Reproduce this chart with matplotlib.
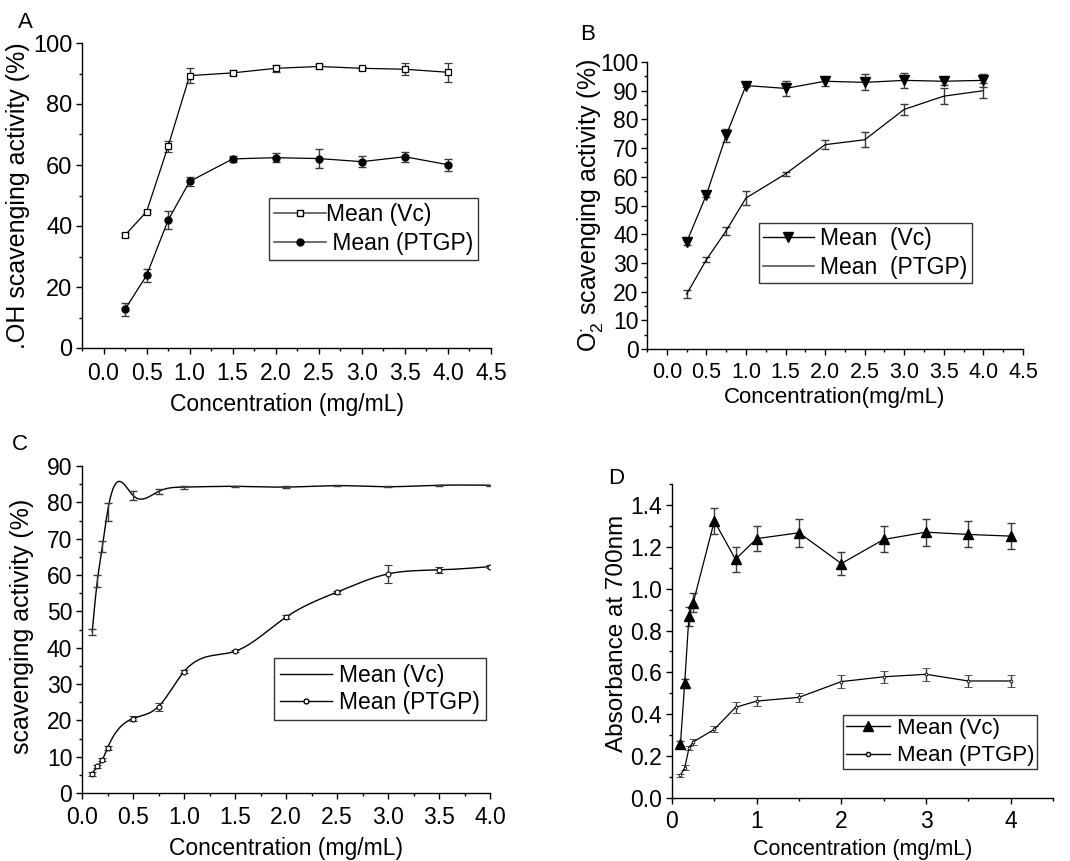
import numpy as np
import matplotlib
matplotlib.use("Agg")
import matplotlib.pyplot as plt
from matplotlib.ticker import MultipleLocator
from matplotlib.lines import Line2D

plt.rcParams['font.family'] = ['Liberation Sans', 'DejaVu Sans']
plt.rcParams['mathtext.fontset'] = 'custom'
plt.rcParams['mathtext.rm'] = 'Liberation Sans'
plt.rcParams['mathtext.it'] = 'Liberation Sans:italic'
plt.rcParams['axes.linewidth'] = 1.0

# ---------------- Data ----------------
# Panel A: .OH scavenging
a_x = [0.25, 0.5, 0.75, 1.0, 1.5, 2.0, 2.5, 3.0, 3.5, 4.0]
a_vc = [37.0, 44.7, 66.1, 89.3, 90.2, 91.7, 92.3, 91.7, 91.4, 90.4]
a_vc_err = [0.7, 0.5, 1.9, 2.5, 0.8, 1.2, 0.9, 0.4, 1.9, 3.1]
a_ptgp = [12.7, 23.8, 41.9, 54.6, 62.0, 62.4, 62.1, 61.1, 62.7, 60.1]
a_ptgp_err = [2.2, 2.1, 3.0, 1.6, 0.9, 1.5, 3.0, 1.8, 1.7, 2.0]

# Panel B: O2 scavenging
b_x = [0.25, 0.5, 0.75, 1.0, 1.5, 2.0, 2.5, 3.0, 3.5, 4.0]
b_vc = [37.2, 53.7, 74.4, 91.8, 90.8, 93.3, 92.9, 93.6, 93.3, 93.6]
b_vc_err = [0.8, 0.8, 2.3, 0.5, 2.7, 1.5, 2.8, 2.5, 1.3, 2.2]
b_ptgp = [19.1, 31.1, 41.2, 52.6, 61.0, 71.2, 72.9, 83.5, 88.1, 90.0]
b_ptgp_err = [1.5, 0.8, 1.4, 2.3, 0.8, 1.5, 2.6, 2.0, 2.9, 2.6]

# Panel C: scavenging activity
c_x = [0.1, 0.15, 0.2, 0.25, 0.5, 0.75, 1.0, 1.5, 2.0, 2.5, 3.0, 3.5, 4.0]
c_vc = [44.4, 58.3, 67.9, 77.4, 81.9, 83.0, 84.2, 84.4, 84.2, 84.6, 84.3, 84.7, 84.7]
c_vc_err = [0.8, 1.6, 1.5, 2.4, 1.3, 0.6, 0.4, 0.2, 0.2, 0.2, 0.2, 0.2, 0.2]
c_ptgp = [5.3, 7.3, 9.2, 12.4, 20.5, 23.8, 33.4, 39.0, 48.4, 55.3, 60.3, 61.4, 62.3]
c_ptgp_err = [0.5, 0.4, 0.4, 0.5, 0.7, 1.1, 0.4, 0.3, 0.6, 0.4, 2.5, 0.8, 0.4]

# Panel D: reducing power
d_x = [0.1, 0.15, 0.2, 0.25, 0.5, 0.75, 1.0, 1.5, 2.0, 2.5, 3.0, 3.5, 4.0]
d_vc = [0.26, 0.548, 0.868, 0.932, 1.323, 1.14, 1.239, 1.267, 1.12, 1.235, 1.27, 1.259, 1.251]
d_vc_err = [0.012, 0.022, 0.044, 0.045, 0.064, 0.058, 0.06, 0.066, 0.056, 0.062, 0.064, 0.062, 0.062]
d_ptgp = [0.109, 0.144, 0.237, 0.268, 0.328, 0.433, 0.463, 0.481, 0.556, 0.579, 0.591, 0.559, 0.559]
d_ptgp_err = [0.008, 0.012, 0.01, 0.015, 0.015, 0.025, 0.025, 0.022, 0.03, 0.03, 0.03, 0.03, 0.03]

W, H = 1070, 861
fig = plt.figure(figsize=(W / 100, H / 100), dpi=100)


def px_axes(l, t, r, b):
    return fig.add_axes([l / W, 1 - b / H, (r - l) / W, (b - t) / H])


def style(ax, tick_fs):
    for s in ['top', 'right']:
        ax.spines[s].set_visible(False)
    ax.tick_params(which='major', direction='out', length=4, width=1.0, labelsize=tick_fs, pad=3)
    ax.tick_params(which='minor', direction='out', length=2.5, width=1.0)


def spline(x, y, n=500):
    x = np.asarray(x, float)
    y = np.asarray(y, float)
    m = len(x)
    h = np.diff(x)
    A = np.zeros((m, m))
    bb = np.zeros(m)
    A[0, 0] = 1
    A[-1, -1] = 1
    for i in range(1, m - 1):
        A[i, i - 1] = h[i - 1]
        A[i, i] = 2 * (h[i - 1] + h[i])
        A[i, i + 1] = h[i]
        bb[i] = 3 * ((y[i + 1] - y[i]) / h[i] - (y[i] - y[i - 1]) / h[i - 1])
    c = np.linalg.solve(A, bb)
    xs = np.linspace(x[0], x[-1], n)
    idx = np.clip(np.searchsorted(x, xs) - 1, 0, m - 2)
    dx = xs - x[idx]
    bcoef = (y[1:] - y[:-1]) / h - h * (2 * c[:-1] + c[1:]) / 3
    d = (c[1:] - c[:-1]) / (3 * h)
    ys = y[idx] + bcoef[idx] * dx + c[idx] * dx ** 2 + d[idx] * dx ** 3
    return xs, ys


EB = dict(ecolor='#3a3a3a', elinewidth=1.0, capsize=3, capthick=1.0)

# ---------------- Panel A ----------------
axA = px_axes(82, 43, 491, 348)
style(axA, 15)
axA.errorbar(a_x, a_vc, yerr=a_vc_err, color='black', lw=0.9, marker='s', ms=4.5,
             mfc='white', mec='black', mew=0.9, **EB)
axA.errorbar(a_x, a_ptgp, yerr=a_ptgp_err, color='black', lw=0.9, marker='o', ms=5,
             mfc='black', mec='black', **EB)
axA.set_xlim(-0.25, 4.5)
axA.set_ylim(0, 100)
axA.xaxis.set_major_locator(MultipleLocator(0.5))
axA.xaxis.set_minor_locator(MultipleLocator(0.25))
axA.yaxis.set_major_locator(MultipleLocator(20))
axA.yaxis.set_minor_locator(MultipleLocator(10))
axA.xaxis.set_major_formatter(matplotlib.ticker.FormatStrFormatter('%.1f'))
axA.tick_params(axis='y', labelsize=17)
axA.tick_params(axis='x', labelsize=16.5, pad=6)
axA.set_ylabel('.OH scavenging activity (%)', fontsize=18, va='center')
axA.yaxis.set_label_coords(-64 / 409, 0.5)
axA.set_xlabel('Concentration (mg/mL)', fontsize=16.5, va='center')
axA.xaxis.set_label_coords(0.5, -57 / 305)
hA = [Line2D([], [], color='#555555', lw=1.2, marker='s', ms=4.5, mfc='white', mec='black'),
      Line2D([], [], color='#555555', lw=1.2, marker='o', ms=5, mfc='black', mec='black')]
legA = fig.legend(hA, ['Mean (Vc)', ' Mean (PTGP)'], loc='upper left',
                  bbox_to_anchor=(269 / W, 1 - 198 / H), bbox_transform=fig.transFigure,
                  fontsize=16.5, frameon=True, fancybox=False, edgecolor='black',
                  handlelength=2.3, handletextpad=0.0, labelspacing=0.3, borderpad=0.2,
                  borderaxespad=0)
legA.get_frame().set_linewidth(1.0)
fig.text(25 / W, 1 - 23 / H, 'A', fontsize=16, ha='center', va='center')

# ---------------- Panel B ----------------
axB = px_axes(647, 62, 1023, 349)
style(axB, 15)
axB.errorbar(b_x, b_vc, yerr=b_vc_err, color='black', lw=0.9, marker='v', ms=6.5,
             mfc='black', mec='black', **EB)
axB.errorbar(b_x, b_ptgp, yerr=b_ptgp_err, color='black', lw=0.9, **EB)
axB.set_xlim(-0.25, 4.5)
axB.set_ylim(0, 100)
axB.xaxis.set_major_locator(MultipleLocator(0.5))
axB.xaxis.set_minor_locator(MultipleLocator(0.25))
axB.yaxis.set_major_locator(MultipleLocator(10))
axB.yaxis.set_minor_locator(MultipleLocator(5))
axB.xaxis.set_major_formatter(matplotlib.ticker.FormatStrFormatter('%.1f'))
axB.tick_params(axis='y', labelsize=16.5, pad=2)
axB.tick_params(axis='x', labelsize=15.5, pad=5)
axB.set_ylabel(r'O$_{2}^{\cdot}$ scavenging activity (%)', fontsize=18, va='center')
axB.yaxis.set_label_coords(-57 / 376, 0.5)
axB.set_xlabel('Concentration(mg/mL)', fontsize=16, va='center')
axB.xaxis.set_label_coords(0.5, -48 / 287)
hB = [Line2D([], [], color='black', lw=1.0, marker='v', ms=6.5, mfc='black', mec='black'),
      Line2D([], [], color='#555555', lw=1.2)]
legB = fig.legend(hB, ['Mean  (Vc)', 'Mean  (PTGP)'], loc='upper left',
                  bbox_to_anchor=(759 / W, 1 - 223 / H), bbox_transform=fig.transFigure,
                  fontsize=16.5, frameon=True, fancybox=False, edgecolor='black',
                  handlelength=2.2, handletextpad=0.3, labelspacing=0.25, borderpad=0.18,
                  borderaxespad=0)
legB.get_frame().set_linewidth(1.0)
fig.text(588 / W, 1 - 35 / H, 'B', fontsize=16, ha='center', va='center')

# ---------------- Panel C ----------------
axC = px_axes(82, 466, 490, 793)
style(axC, 16.5)
xs, ys = spline(c_x, c_vc)
axC.plot(xs, ys, color='black', lw=1.0)
axC.errorbar(c_x, c_vc, yerr=c_vc_err, fmt='none', **EB)
xs, ys = spline(c_x, c_ptgp)
axC.plot(xs, ys, color='black', lw=1.0)
axC.errorbar(c_x, c_ptgp, yerr=c_ptgp_err, fmt='o', ms=3.5, mfc='white', mec='black',
             mew=0.8, **EB)
axC.set_xlim(0, 4.0)
axC.set_ylim(0, 90)
axC.xaxis.set_major_locator(MultipleLocator(0.5))
axC.xaxis.set_minor_locator(MultipleLocator(0.25))
axC.yaxis.set_major_locator(MultipleLocator(10))
axC.yaxis.set_minor_locator(MultipleLocator(5))
axC.xaxis.set_major_formatter(matplotlib.ticker.FormatStrFormatter('%.1f'))
axC.tick_params(axis='x', pad=5)
axC.set_ylabel('scavenging activity (%)', fontsize=18, va='center')
axC.yaxis.set_label_coords(-60 / 408, 0.51)
axC.set_xlabel('Concentration (mg/mL)', fontsize=16.5, va='center')
axC.xaxis.set_label_coords(0.5, -56 / 327)
hC = [Line2D([], [], color='black', lw=1.0),
      Line2D([], [], color='black', lw=1.0, marker='o', ms=3.5, mfc='white', mec='black')]
legC = fig.legend(hC, ['Mean (Vc)', 'Mean (PTGP)'], loc='upper left',
                  bbox_to_anchor=(274 / W, 1 - 658 / H), bbox_transform=fig.transFigure,
                  fontsize=16.5, frameon=True, fancybox=False, edgecolor='black',
                  handlelength=2.3, handletextpad=0.3, labelspacing=0.2, borderpad=0.25,
                  borderaxespad=0)
legC.get_frame().set_linewidth(1.0)
fig.text(20 / W, 1 - 445 / H, 'C', fontsize=16, ha='center', va='center')

# ---------------- Panel D ----------------
axD = px_axes(672, 484, 1053, 798)
style(axD, 16.5)
axD.errorbar(d_x, d_vc, yerr=d_vc_err, color='black', lw=0.9, marker='^', ms=7.5,
             mfc='black', mec='black', **EB)
axD.errorbar(d_x, d_ptgp, yerr=d_ptgp_err, color='black', lw=0.9, marker='o', ms=2,
             mfc='white', mec='black', mew=0.6, **EB)
axD.set_xlim(0, 4.5)
axD.set_ylim(0, 1.5)
axD.xaxis.set_major_locator(MultipleLocator(1))
axD.xaxis.set_minor_locator(MultipleLocator(0.5))
axD.yaxis.set_major_locator(MultipleLocator(0.2))
axD.yaxis.set_minor_locator(MultipleLocator(0.1))
axD.yaxis.set_major_formatter(matplotlib.ticker.FormatStrFormatter('%.1f'))
axD.tick_params(axis='x', pad=5)
axD.set_ylabel('Absorbance at 700nm', fontsize=17.5, va='center')
axD.yaxis.set_label_coords(-55 / 381, 0.525)
axD.set_xlabel('Concentration (mg/mL)', fontsize=15.5, va='center')
axD.xaxis.set_label_coords(0.5, -52 / 314)
hD = [Line2D([], [], color='black', lw=1.0, marker='^', ms=7.5, mfc='black', mec='black'),
      Line2D([], [], color='black', lw=1.0, marker='o', ms=3, mfc='white', mec='black')]
legD = fig.legend(hD, ['Mean (Vc)', 'Mean (PTGP)'], loc='upper left',
                  bbox_to_anchor=(843 / W, 1 - 715 / H), bbox_transform=fig.transFigure,
                  fontsize=16, frameon=True, fancybox=False, edgecolor='black',
                  handlelength=2.0, handletextpad=0.3, labelspacing=0.3, borderpad=0.12,
                  borderaxespad=0)
legD.get_frame().set_linewidth(1.0)
fig.text(616 / W, 1 - 478 / H, 'D', fontsize=16, ha='center', va='center')

fig.savefig('out.png', dpi=100)
